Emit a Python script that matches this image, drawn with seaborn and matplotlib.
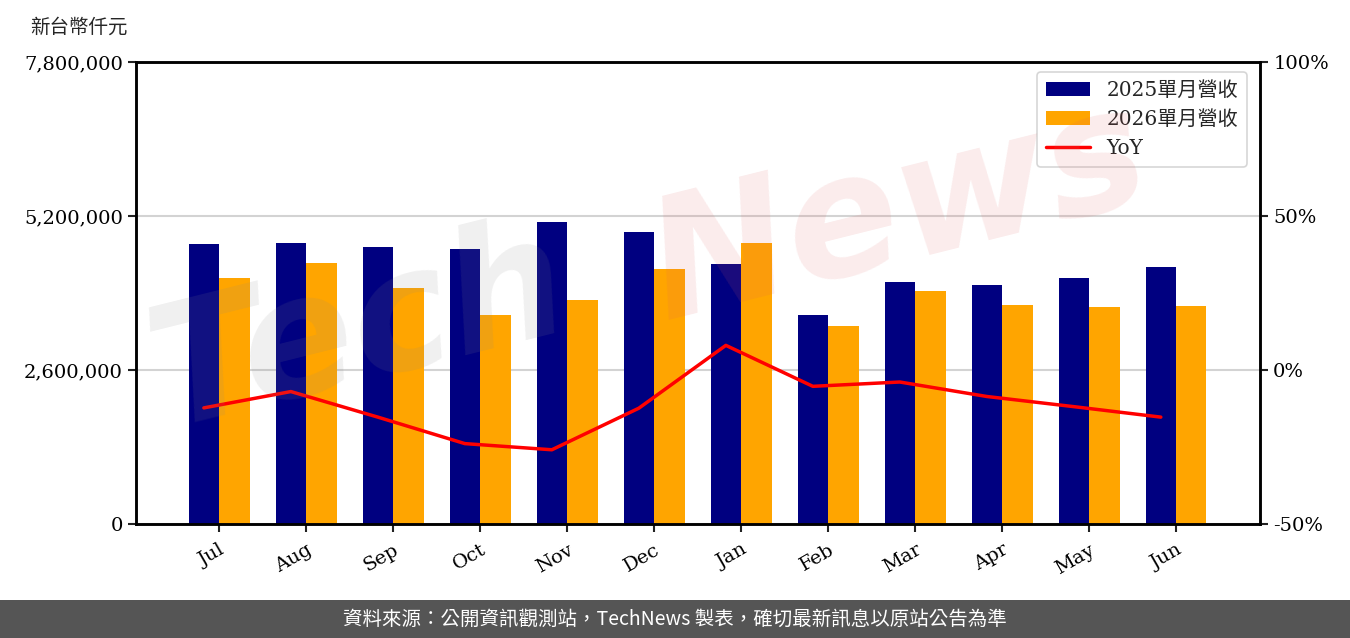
import numpy as np
import pandas as pd
import matplotlib
matplotlib.use("Agg")
import matplotlib.pyplot as plt
import seaborn as sns
from matplotlib.patches import Patch, Rectangle
from matplotlib.lines import Line2D
from matplotlib.ticker import FuncFormatter

months = ["Jul", "Aug", "Sep", "Oct", "Nov", "Dec", "Jan", "Feb", "Mar", "Apr", "May", "Jun"]
rev_2025 = [4730000, 4740000, 4680000, 4640000, 5100000, 4930000, 4390000, 3530000, 4090000, 4040000, 4150000, 4340000]
rev_2026 = [4150000, 4410000, 3980000, 3530000, 3780000, 4310000, 4740000, 3340000, 3930000, 3700000, 3660000, 3680000]
yoy = [-12.3, -7.0, -15.3, -23.9, -25.9, -12.4, 8.0, -5.3, -3.9, -8.6, -11.9, -15.3]
series_names = ["2025單月營收", "2026單月營收", "YoY"]
left_ticks = [0, 2600000, 5200000, 7800000]
right_ticks = [-50, 0, 50, 100]

NAVY = "#000080"
ORANGE = "#FFA500"
RED = "#FF0000"

sns.set_theme(style="white")
plt.rcParams["font.family"] = ["DejaVu Serif", "Noto Sans CJK TC"]

df = pd.DataFrame({
    "month": months * 2,
    "value": rev_2025 + rev_2026,
    "series": [series_names[0]] * len(months) + [series_names[1]] * len(months),
})

fig = plt.figure(figsize=(13.5, 6.38), dpi=100)
ax = fig.add_axes([136 / 1350, 1 - 524 / 638, (1260 - 136) / 1350, (524 - 62) / 638])

ax.set_axisbelow(True)
ax.yaxis.grid(True, color="#d3d3d3", linewidth=1.5)
ax.xaxis.grid(False)

sns.barplot(data=df, x="month", y="value", hue="series", order=months,
            palette=[NAVY, ORANGE], width=0.7, ax=ax, legend=False, saturation=1,
            linewidth=0, edgecolor="none")
ax.patch.set_alpha(0)

XLIM = (-0.955, 11.965)
ax.set_ylim(0, 7800000)
ax.set_xlim(*XLIM)
ax.set_yticks(left_ticks)
ax.yaxis.set_major_formatter(FuncFormatter(lambda v, p: f"{int(v):,}"))
ax.set_xlabel("")
ax.set_ylabel("")
ax.tick_params(axis="y", labelsize=14, length=6, width=1.5, color="#222222", direction="out",
               left=True, labelcolor="black")
ax.tick_params(axis="x", labelsize=14, length=6, width=1.5, color="#222222", direction="out",
               bottom=True, labelcolor="black", pad=6)
for lab in ax.get_xticklabels():
    lab.set_rotation(30)
    lab.set_ha("right")
    lab.set_rotation_mode("anchor")

ax2 = ax.twinx()
xpos = np.arange(len(months)) - 0.175
sns.lineplot(x=xpos, y=yoy, ax=ax2, color=RED, linewidth=2.5, sort=False)
ax2.set_ylim(-50, 100)
ax2.set_yticks(right_ticks)
ax2.yaxis.set_major_formatter(FuncFormatter(lambda v, p: f"{int(v)}%"))
ax2.tick_params(axis="y", labelsize=14, length=6, width=1.5, color="#222222", direction="out",
                right=True, labelcolor="black")
ax2.grid(False)
ax2.set_xlim(*XLIM)

# watermark (drawn over the plot, faint)
fig.text(0.10, 0.33, "Tech", fontsize=120, color="#888888", alpha=0.13, rotation=14,
         fontstyle="italic", family="DejaVu Sans", fontweight="bold", zorder=5)
fig.text(0.47, 0.50, "News", fontsize=120, color="#e06060", alpha=0.12, rotation=14,
         fontstyle="italic", family="DejaVu Sans", fontweight="bold", zorder=5)

for a in (ax, ax2):
    for s in a.spines.values():
        s.set_color("black")
        s.set_linewidth(1.8)
        s.set_visible(True)

handles = [Patch(facecolor=NAVY, edgecolor="none"),
           Patch(facecolor=ORANGE, edgecolor="none"),
           Line2D([0], [0], color=RED, linewidth=2.5)]
leg = ax2.legend(handles, series_names, loc="upper right", fontsize=14.5, frameon=True,
                 fancybox=True, edgecolor="#cccccc", handlelength=2.2, borderpad=0.45,
                 labelspacing=0.5, borderaxespad=0,
                 bbox_to_anchor=((1247 - 136) / 1124, 1 - (72 - 62) / 462))
leg.get_frame().set_linewidth(1.2)
leg.set_zorder(10)

fig.text(30 / 1350, 1 - 27 / 638, "新台幣仟元", fontsize=14, va="center", ha="left",
         family=["Noto Sans CJK TC"])

# footer band
fig.patches.append(Rectangle((0, 0), 1, 38 / 638, transform=fig.transFigure,
                             facecolor="#555555", edgecolor="none", zorder=0))
fig.text(0.5, 19 / 638, "資料來源：公開資訊觀測站，TechNews 製表，確切最新訊息以原站公告為準",
         color="white", fontsize=14, ha="center", va="center",
         family=["Noto Sans CJK TC", "DejaVu Sans"])

fig.savefig("out.png", dpi=100)
